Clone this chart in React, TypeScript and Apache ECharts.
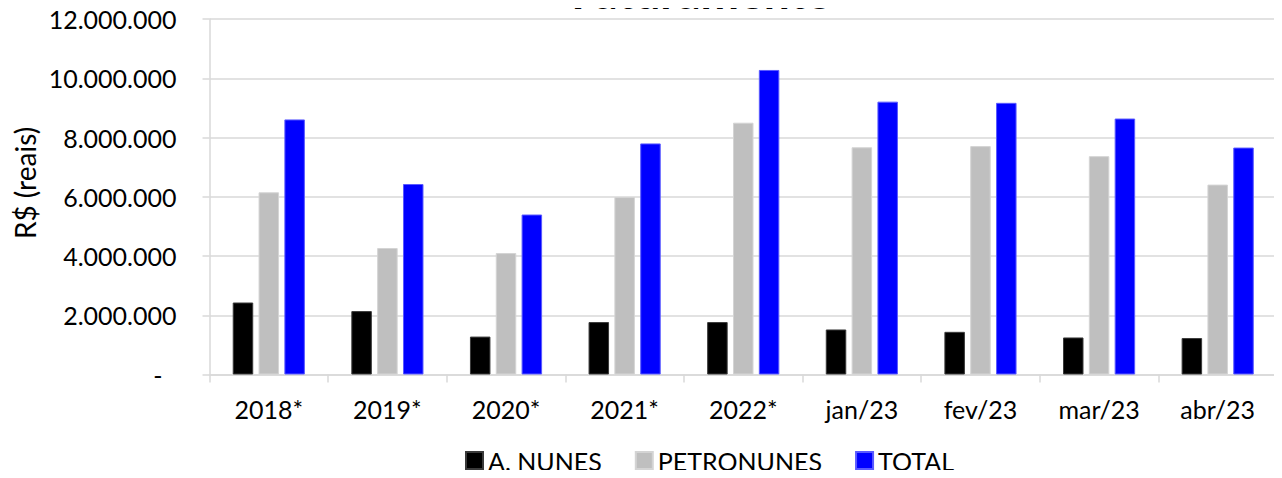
import React, { useEffect, useRef } from "react";
import * as echarts from "echarts";

const categories = ["2018*", "2019*", "2020*", "2021*", "2022*", "jan/23", "fev/23", "mar/23", "abr/23"];
const aNunes = [2430000, 2140000, 1280000, 1770000, 1770000, 1520000, 1440000, 1250000, 1230000];
const petronunes = [6150000, 4270000, 4100000, 5990000, 8500000, 7670000, 7710000, 7370000, 6410000];
const total = [8610000, 6430000, 5400000, 7800000, 10280000, 9210000, 9170000, 8640000, 7660000];
const seriesNames = ["A. NUNES", "PETRONUNES", "TOTAL"];
const titleText = "Faturamento";
const yAxisTitle = "R$ (reais)";

const FONT = "Lato, 'Open Sans', sans-serif";

function fmt(v: number): string {
  if (v === 0) return "{z|-}";
  return String(Math.round(v)).replace(/\B(?=(\d{3})+(?!\d))/g, ".");
}

export default function App() {
  const ref = useRef<HTMLDivElement>(null);
  useEffect(() => {
    if (!ref.current) return;
    const chart = echarts.init(ref.current, undefined, { renderer: "svg" });
    const colors = ["#000000", "#bfbfbf", "#0000ff"];
    const borders = ["#3a3a3a", "#d4d4d4", "#5a5aff"];
    const datas = [aNunes, petronunes, total];
    chart.setOption({
      animation: false,
      backgroundColor: "#ffffff",
      textStyle: { fontFamily: FONT },
      grid: { left: 209.5, right: 5, top: 19, bottom: 103.5, containLabel: false },
      graphic: [
        {
          type: "text",
          x: 702,
          y: -32,
          style: {
            text: titleText,
            font: `bold 46px ${FONT}`,
            fill: "#000",
            textAlign: "center",
            verticalAlign: "top",
          },
        },
        {
          type: "text",
          x: 25,
          y: 183,
          rotation: Math.PI / 2,
          style: {
            text: yAxisTitle,
            font: `28px ${FONT}`,
            fill: "#000",
            textAlign: "center",
            textVerticalAlign: "middle",
          },
        },
      ],
      legend: {
        data: seriesNames,
        left: 460,
        top: 443,
        itemWidth: 17,
        itemHeight: 17,
        itemGap: 33,
        icon: "rect",
        textStyle: { fontSize: 25, color: "#000", fontFamily: FONT },
      },
      xAxis: {
        type: "category",
        data: categories,
        axisLine: { show: true, lineStyle: { color: "#d9d9d9", width: 1.5 } },
        axisTick: { show: true, length: 8, lineStyle: { color: "#d9d9d9", width: 1.5 } },
        axisLabel: { fontSize: 25, color: "#000", margin: 22, fontFamily: FONT },
      },
      yAxis: {
        type: "value",
        min: 0,
        max: 12000000,
        interval: 2000000,
        axisLine: { show: true, lineStyle: { color: "#d9d9d9", width: 1.5 } },
        axisTick: { show: true, length: 7, lineStyle: { color: "#d9d9d9", width: 1.5 } },
        splitLine: { show: true, lineStyle: { color: "#d9d9d9", width: 1.5 } },
        axisLabel: {
          fontSize: 25,
          color: "#000",
          margin: 33,
          fontFamily: FONT,
          formatter: fmt,
          rich: { z: { fontSize: 25, color: "#000", padding: [0, 14, 0, 0], fontFamily: FONT } },
        },
      },
      series: seriesNames.map((name, i) => ({
        name,
        type: "bar",
        data: datas[i],
        barWidth: 20.5,
        barGap: "26%",
        itemStyle: { color: colors[i], borderColor: borders[i], borderWidth: 1 },
      })),
    });
    return () => chart.dispose();
  }, []);
  return <div ref={ref} style={{ width: 1282, height: 478, margin: -8 }} />;
}
